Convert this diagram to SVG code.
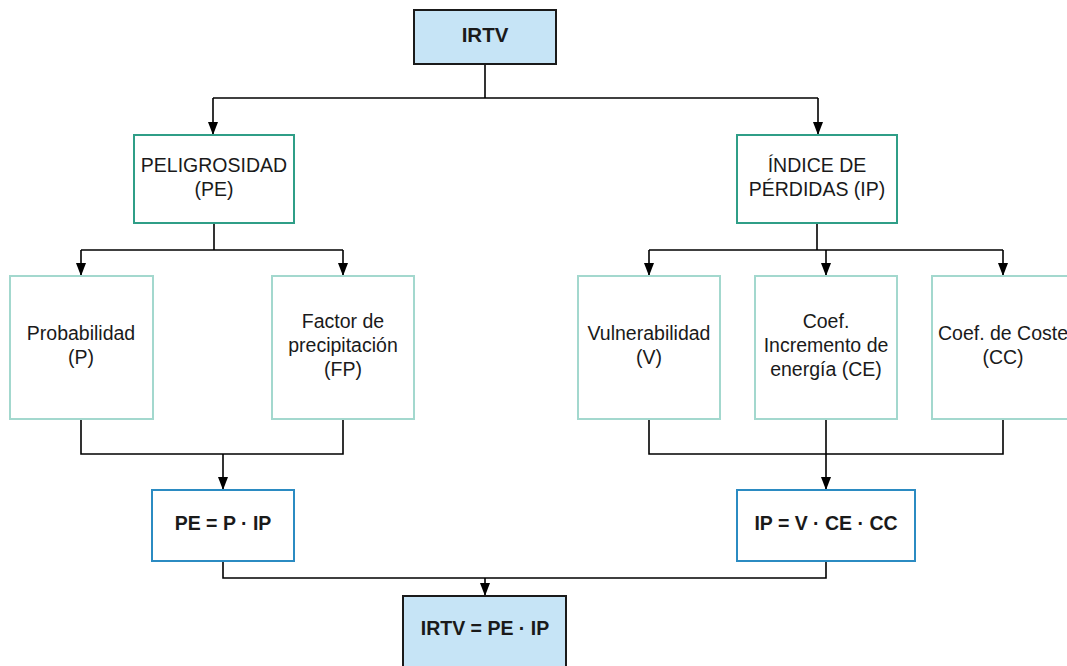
<svg xmlns="http://www.w3.org/2000/svg" width="1067" height="666" viewBox="0 0 1067 666">
<defs>
<marker id="arr" viewBox="0 0 13 12" refX="13" refY="6" markerWidth="13" markerHeight="12" markerUnits="userSpaceOnUse" orient="auto">
<path d="M0,1 L13,6 L0,11 Z" fill="#000"/>
</marker>
<style>
text{font-family:"Liberation Sans",Arial,sans-serif;font-size:19.5px;fill:#1a1a1a;text-anchor:middle}
.b{font-weight:bold}
.main{fill:#c6e4f6;stroke:#1a1a1a;stroke-width:2}
.mid{fill:#fff;stroke:#2f9e87;stroke-width:2}
.leaf{fill:#fff;stroke:#a3d8ce;stroke-width:2}
.form{fill:#fff;stroke:#2b8bc2;stroke-width:2}
.c{fill:none;stroke:#000;stroke-width:1.6}
</style>
</defs>
<rect width="1067" height="666" fill="#fff"/>
<g id="connectors">
<path class="c" d="M485,64 V98"/>
<path class="c" d="M213,98 H818"/>
<path class="c" d="M213,98 V135" marker-end="url(#arr)"/>
<path class="c" d="M818,98 V135" marker-end="url(#arr)"/>
<path class="c" d="M214,223 V250"/>
<path class="c" d="M81,250 H343"/>
<path class="c" d="M81,250 V276" marker-end="url(#arr)"/>
<path class="c" d="M343,250 V276" marker-end="url(#arr)"/>
<path class="c" d="M817,223 V250"/>
<path class="c" d="M649,250 H1003"/>
<path class="c" d="M649,250 V276" marker-end="url(#arr)"/>
<path class="c" d="M826,250 V276" marker-end="url(#arr)"/>
<path class="c" d="M1003,250 V276" marker-end="url(#arr)"/>
<path class="c" d="M81,419 V454 H343 V419"/>
<path class="c" d="M223,454 V490" marker-end="url(#arr)"/>
<path class="c" d="M649,419 V454 H1003 V419"/>
<path class="c" d="M826,419 V490" marker-end="url(#arr)"/>
<path class="c" d="M223,561 V578 H826 V561"/>
<path class="c" d="M485,578 V596" marker-end="url(#arr)"/>
</g>
<g id="irtv">
<rect class="main" x="414" y="10" width="142" height="54"/>
<text class="b" x="485" y="42" style="font-size:20.5px">IRTV</text>
</g>
<g id="pe">
<rect class="mid" x="134" y="135" width="160" height="88"/>
<text x="214" y="172">PELIGROSIDAD</text>
<text x="214" y="196">(PE)</text>
</g>
<g id="ip">
<rect class="mid" x="737" y="135" width="160" height="88"/>
<text x="817" y="172">ÍNDICE DE</text>
<text x="817" y="196">PÉRDIDAS (IP)</text>
</g>
<g id="prob">
<rect class="leaf" x="10" y="276" width="143" height="143"/>
<text x="81" y="340">Probabilidad</text>
<text x="81" y="364">(P)</text>
</g>
<g id="fp">
<rect class="leaf" x="272" y="276" width="142" height="143"/>
<text x="343" y="328">Factor de</text>
<text x="343" y="352">precipitación</text>
<text x="343" y="376">(FP)</text>
</g>
<g id="vul">
<rect class="leaf" x="578" y="276" width="142" height="143"/>
<text x="649" y="340">Vulnerabilidad</text>
<text x="649" y="364">(V)</text>
</g>
<g id="ce">
<rect class="leaf" x="755" y="276" width="142" height="143"/>
<text x="826" y="328">Coef.</text>
<text x="826" y="352">Incremento de</text>
<text x="826" y="376">energía (CE)</text>
</g>
<g id="cc">
<rect class="leaf" x="932" y="276" width="143" height="143"/>
<text x="1003" y="340">Coef. de Coste</text>
<text x="1003" y="364">(CC)</text>
</g>
<g id="peform">
<rect class="form" x="152" y="490" width="142" height="71"/>
<text class="b" x="223" y="530">PE = P · IP</text>
</g>
<g id="ipform">
<rect class="form" x="737" y="490" width="178" height="71"/>
<text class="b" x="826" y="530">IP = V · CE · CC</text>
</g>
<g id="irtvform">
<rect class="main" x="403" y="596" width="163" height="80"/>
<text class="b" x="485" y="635">IRTV = PE · IP</text>
</g>
</svg>
